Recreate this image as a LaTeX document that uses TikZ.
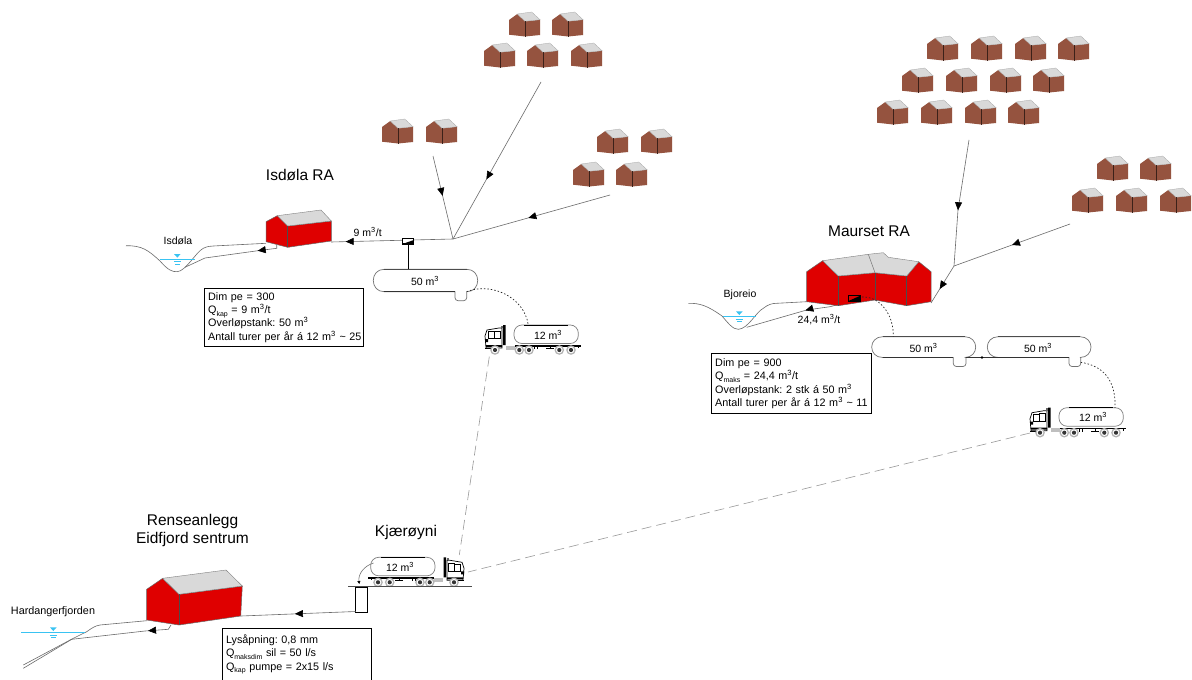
\documentclass[tikz,border=0pt]{standalone}
\usepackage{fontspec}
\setmainfont{Liberation Sans}
\usetikzlibrary{arrows.meta,decorations.markings}
\definecolor{housered}{HTML}{DF0000}
\definecolor{brickbrown}{HTML}{95533F}
\definecolor{roofgray}{HTML}{D9D9D9}
\definecolor{waterblue}{HTML}{39C3F2}
\newcommand{\cubic}{m\textsuperscript{3}}
\newcommand{\lowsub}[1]{\raisebox{-2.5pt}{\scriptsize #1}}
\tikzset{
  pipe/.style={draw=black!58,line width=0.6pt},
  arrowin/.style={postaction={decorate},decoration={markings,mark=at position #1 with {\arrow{Triangle[length=8pt,width=7pt,black]}}}},
  dotline/.style={draw=black!85,line width=0.7pt,dash pattern=on 1.5pt off 2pt},
  haul/.style={draw=black!40,line width=0.6pt,dash pattern=on 10pt off 5pt},
  infobox/.style={draw=black,line width=0.8pt,align=left,anchor=north west,inner sep=3.5pt,font=\fontsize{10.8}{13.3}\selectfont\frenchspacing},
  lab/.style={font=\fontsize{10.5}{12}\selectfont,inner sep=0pt},
  title/.style={font=\fontsize{15.5}{18}\selectfont,inner sep=0pt,align=center},
  wall/.style={fill=housered,draw=black!60,line width=0.5pt},
  roof/.style={fill=roofgray,draw=black!50,line width=0.4pt},
  tankline/.style={draw=black!55,line width=0.7pt,fill=white},
}
\newcommand{\cottage}[2]{%
  \begin{scope}[shift={(#1,#2)}]
    \fill[brickbrown] (0,8)--(8.3,2)--(16,9.3)--(31,7.7)--(31,23)--(16,24.5)--(0,22.7)--cycle;
    \fill[roofgray,draw=black!35,line width=0.3pt] (8.3,2)--(22.7,0)--(31,7.7)--(16,9.3)--cycle;
    \draw[black!60!brickbrown,line width=0.5pt] (16,9.3)--(16,24.5);
  \end{scope}}
\newcommand{\water}[3]{% centre x, water level y, half width
  \draw[waterblue,line width=0.8pt] (#1-#3,#2)--(#1+#3,#2);
  \fill[waterblue] (#1-3.3,#2-5.3)--(#1+3.3,#2-5.3)--(#1,#2-1.7)--cycle;
  \draw[waterblue,line width=0.5pt] (#1-3.5,#2+2.3)--(#1+3.5,#2+2.3) (#1-2.2,#2+4.6)--(#1+2.2,#2+4.6);}
\newcommand{\lorry}[4]{% name, x, y, xscale
  \begin{scope}[shift={(#2,#3)},xscale=#4]
    \draw[black!50,line width=0.7pt,fill=white,rounded corners=8pt] (30,0) rectangle (94.3,18.5);
    \draw[black,line width=0.6pt] (40,0)--(84,0);
    \draw[black,line width=1.6pt] (31,20.7)--(96.7,20.7);
    \draw[black,line width=0.8pt] (50,20.7)--(50,24) (53,20.7)--(53,24) (66,20.7)--(66,24) (94,20.7)--(94,23) (62,23.5)--(70,23.5);
    \fill[black!25] (22,20.5) rectangle (31,24.5);
    \draw[black,line width=0.7pt,fill=white] (2,23)--(1,11)--(3,5)--(15,3)--(18,3)--(18,23)--cycle;
    \draw[black,line width=0.6pt] (4.5,6.5) rectangle (10.5,13.5) (10.5,6) rectangle (16.5,13.5);
    \fill[black] (1,14) rectangle (4,17) (2,20) rectangle (18,22) (19,0) rectangle (21.5,20);
    \fill[black!60] (16.5,0.5) rectangle (18.5,3);
    \draw[black,line width=1pt] (1,23.5)--(7,23.5);
    \foreach \wx in {11,35.3,45,75.3,87}{
      \fill[black!30] (\wx,25) circle (4.8pt);
      \fill[white] (\wx,25) circle (3.3pt);
      \fill[black!80] (\wx,25) circle (2.1pt);
    }
  \end{scope}}
\newcommand{\tankbody}[6]{% x0,x1,top,bottom,stub left,stub right
  \draw[tankline] (#1+11,#3)--(#2-11,#3)
     .. controls (#2-4,#3) and (#2,#3+5) .. (#2,#3/2+#4/2)
     .. controls (#2,#4-5) and (#2-4,#4) .. (#2-11,#4)
     --(#6,#4) [rounded corners=3pt] --(#6,#4+9)--(#5,#4+9)[sharp corners]--(#5,#4)--(#1+11,#4)
     .. controls (#1+4,#4) and (#1,#4-5) .. (#1,#3/2+#4/2)
     .. controls (#1,#3+5) and (#1+4,#3) .. (#1+11,#3);
  \draw[black!70,line width=1pt] (#1+11,#3)--(#2-11,#3);
  \draw[black!80,line width=0.8pt] (#1+11,#4)--(#5,#4);}
\begin{document}
\begin{tikzpicture}[x=1pt,y=-1pt]
\useasboundingbox[fill=white] (0,0) rectangle (1192,680);
% cottages
\foreach \cx/\cy in {509/12,552/12,484/43,527/43,571/43,382/119,426/119,597/129,641/129,573/162,616/162,
  927/36,971/36,1015/36,1058/36,902/68,946/68,990/68,1033/68,877/100,921/100,965/100,1008/100,
  1097/156,1140/156,1072/188,1116/188,1160/188}{\cottage{\cx}{\cy}}
% ---- Isdola
\coordinate (isjunc) at (453,239);
\coordinate (ispair) at (433,156);
\coordinate (istop) at (541,82);
\coordinate (isright) at (610,195);
\coordinate (ishouse) at (331,242);
\draw[pipe,arrowin=0.48] (ispair)--(isjunc);
\draw[pipe,arrowin=0.62] (istop)--(isjunc);
\draw[pipe,arrowin=0.52] (isright)--(isjunc);
\draw[pipe,arrowin=0.88] (isjunc)--(ishouse);
\draw[pipe] (126,245.7) .. controls (142,245.5) and (148,250) .. (160,261) .. controls (168,270) and (172,272) .. (177.3,271.7) .. controls (186,271) and (196,252) .. (203.3,248.3) .. controls (207,246.5) and (210,246) .. (213.3,246)--(266,243.3);
\draw[pipe,arrowin=0.23] (276.7,245)--(276.7,248.3)--(258,250.7)--(205,258)--(185,267.3);
\water{177.3}{259.3}{17.5}
\draw[wall] (266,221.7)--(277.3,215.7)--(287.7,226)--(331.3,221)--(331.3,241)--(287.7,247.3)--(266,241.7)--cycle;
\draw[roof] (277.3,215.7)--(321,210)--(331.3,221)--(287.7,226)--cycle;
\draw[black!70,line width=0.5pt] (287.7,226)--(287.7,247.3);
\node[lab] (islab) at (178,240.5) {Isdøla};
\node[title] (istitle) at (300,175) {Isdøla RA};
\node[lab] (isflow) at (367.7,232) {9 \cubic/t};
\node[infobox,minimum width=158.4pt,minimum height=57.4pt,text width=151.4pt] (isbox) at (204.3,288.3) {Dim pe = 300\\Q\lowsub{kap} = 9 \cubic/t\\Overløpstank: 50 \cubic\\\mbox{Antall turer per år á 12 \cubic{} \textasciitilde{} 25}};
% overflow box and tank
\tankbody{373.3}{477.7}{269.3}{291.7}{455}{466.7}
\node[lab] (istank) at (425,281) {50 \cubic};
\node[draw=black,fill=white,line width=0.6pt,minimum width=11.5pt,minimum height=6pt,inner sep=0pt] (ismh) at (408,240.8) {};
\fill[black] (402.5,244)--(413.8,240)--(413.8,244)--cycle;
\fill[black] (402.5,243) rectangle (413.8,244);
\coordinate (istanktop) at (408,269.3);
\draw[black,line width=0.8pt] (ismh.south)--(istanktop);
\lorry{istruck}{484}{325}{1}
\node[lab] (istruck12) at (548,334.5) {12 \cubic};
\coordinate (isstub) at (466.7,291.7);
\coordinate (istrucktop) at (528.3,325);
\draw[dotline] (isstub) .. controls (490,282) and (524,296) .. (istrucktop);
% ---- Maurset
\coordinate (majunc) at (954,266);
\coordinate (matop) at (969,140);
\coordinate (maright) at (1070,224);
\coordinate (mahouse) at (931,303);
\draw[pipe,arrowin=0.56] (matop)--(958,210)--(majunc);
\draw[pipe,arrowin=0.5] (maright)--(majunc);
\draw[pipe,arrowin=0.62] (majunc)--(mahouse);
\draw[pipe] (688.3,303.3) .. controls (700,303) and (708,306) .. (722,316) .. controls (728,323) and (733,329.5) .. (738.3,329.3) .. controls (748,329) and (756,312) .. (763.3,308.3) .. controls (768,304.5) and (772,303.3) .. (776.7,303.3)--(806.7,301.7);
\draw[pipe,arrowin=0.42] (848.3,301)--(843.3,303.3)--(830,306.7)--(806.7,310)--(746.7,327.3);
\water{739.3}{316.7}{16.5}
\draw[wall] (806.7,271.7)--(822.7,260.7)--(838.3,276)--(875,272.7)--(906.7,276)--(918.7,261.7)--(931,271.7)--(931,301.7)--(906.7,305.7)--(875,300)--(838.3,305.7)--(806.7,301.7)--cycle;
\draw[roof] (822.7,260.7)--(868.3,254.3)--(883.3,252.7)--(888.3,257.3)--(918.7,261.7)--(906.7,276)--(875,272.7)--(838.3,276)--cycle;
\draw[black!55,line width=0.5pt] (868.3,254.3)--(875,272.7);
\draw[black!70,line width=0.5pt] (838.3,276)--(838.3,305.7) (875,272.7)--(875,300) (906.7,276)--(906.7,305.7);
\node[draw=black,line width=0.6pt,minimum width=12.4pt,minimum height=6pt,inner sep=0pt] (mamh) at (854.5,298) {};
\fill[black] (848.5,301)--(860.7,295.5)--(860.7,301)--cycle;
\node[lab] (malab) at (740,295) {Bjoreio};
\node[title] (matitle) at (869,231) {Maurset RA};
\node[lab] (maflow) at (819,320) {24,4 \cubic/t};
\node[infobox,minimum width=159.4pt,minimum height=60pt,text width=152.4pt] (mabox) at (711.3,353.3) {Dim pe = 900\\Q\lowsub{maks} = 24,4 \cubic/t\\Overløpstank: 2 stk á 50 \cubic\\\mbox{Antall turer per år á 12 \cubic{} \textasciitilde{} 11}};
\tankbody{871.7}{975.7}{336.7}{357.5}{953.3}{966}
\tankbody{987.3}{1091}{336.7}{357.5}{1069}{1080.7}
\coordinate (mab1) at (966,357.5);
\coordinate (mab2) at (998,357.5);
\draw[black!80,line width=0.8pt] (mab1)--(mab2);
\fill[black] (982,357.5) circle (1.4pt);
\node[lab] (matank1) at (923.5,347.5) {50 \cubic};
\node[lab] (matank2) at (1038,347.5) {50 \cubic};
\coordinate (mahousepit) at (862,297);
\coordinate (matanktop) at (893.3,336.7);
\draw[dotline] (mahousepit) .. controls (880,296) and (894,315) .. (matanktop);
\lorry{matruck}{1029}{407.7}{1}
\node[lab] (matruck12) at (1093,417) {12 \cubic};
\coordinate (mastub) at (1080.7,362.3);
\coordinate (matrucktop) at (1115,408);
\draw[dotline] (mastub) .. controls (1105,366) and (1116,382) .. (matrucktop);
% ---- Kjaeroyni
\lorry{kjtruck}{465}{557.3}{-1}
\node[lab] (kjtruck12) at (400,566.5) {12 \cubic};
\node[title] (kjtitle) at (406,532) {Kjærøyni};
\draw[black!70,line width=0.8pt] (348.3,586.7)--(471.7,586.7);
\node[draw=black,line width=0.7pt,minimum width=12pt,minimum height=25.6pt,inner sep=0pt,anchor=north] (kjpit) at (361.7,586.7) {};
\coordinate (kjdrop) at (359.3,584);
\coordinate (kjtank) at (373.5,563);
\draw[draw=black!55,line width=0.6pt,-{Triangle[length=3pt,width=3pt,black]}] (kjtank) .. controls (364,566) and (358,574) .. (kjdrop);
% haul routes
\coordinate (haulA1) at (489.3,356.7);
\coordinate (haulA2) at (459.3,555);
\coordinate (haulB1) at (1030,433);
\coordinate (haulB2) at (468,572);
\draw[haul] (haulA1)--(haulA2);
\draw[haul] (haulB1)--(haulB2);
% ---- Eidfjord
\coordinate (eipit) at (355.7,611.5);
\coordinate (eihouse) at (241,616);
\draw[pipe,arrowin=0.53] (eipit)--(eihouse);
\draw[pipe] (23.3,665)--(73.3,638.3)--(86.7,631.7) .. controls (92,628) and (95,625.8) .. (100,625)--(146.7,620.7);
\draw[pipe,arrowin=0.16] (171,625)--(168.3,629.3)--(145,631)--(71.7,639.3)--(23.3,668.3);
\water{53.3}{632.7}{32}
\draw[wall] (146.7,589.3)--(162.7,578.3)--(179,594.3)--(242.3,586)--(240.7,616)--(179,625)--(146.7,620)--cycle;
\draw[roof] (162.7,578.3)--(226,570)--(242.3,586)--(179,594.3)--cycle;
\draw[black!70,line width=0.5pt] (179,594.3)--(179,625);
\node[lab,font=\fontsize{10.8}{12}\selectfont] (eilab) at (53,612) {Hardangerfjorden};
\node[title] (eititle) at (192.5,530) {Renseanlegg\\Eidfjord sentrum};
\node[font=\fontsize{10.8}{13.3}\selectfont\frenchspacing,align=left,anchor=north west,inner sep=3.5pt,minimum width=148.4pt,minimum height=51.7pt,text width=141.4pt] (eibox) at (222.3,628.3) {Lysåpning: 0,8 mm\\Q\lowsub{maksdim} sil = 50 l/s\\Q\lowsub{kap} pumpe = 2x15 l/s};
\draw[black,line width=0.8pt] (eibox.south west)--(eibox.north west)--(eibox.north east)--(eibox.south east);
\end{tikzpicture}
\end{document}
